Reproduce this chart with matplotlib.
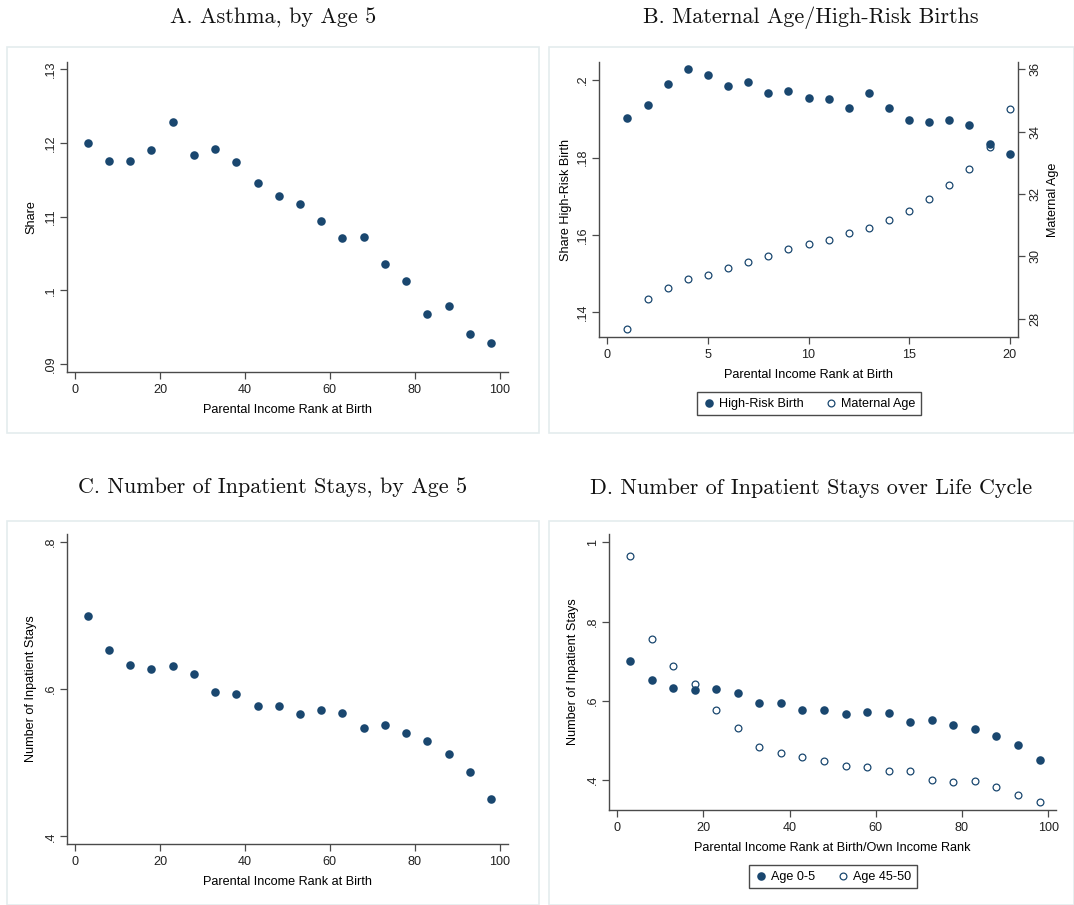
import matplotlib
matplotlib.use("Agg")
import matplotlib.pyplot as plt
from matplotlib.patches import Rectangle

# =================================
# Data
# =================================
rank_ventiles = [3, 8, 13, 18, 23, 28, 33, 38, 43, 48, 53, 58, 63, 68, 73, 78, 83, 88, 93, 98]
rank_bins = list(range(1, 21))

asthma_share = [.1200, .1175, .1175, .1190, .1229, .1184, .1192, .1174, .1145, .1128,
                .1117, .1094, .1071, .1072, .1036, .1013, .0968, .0979, .0940, .0928]

high_risk_share = [.1901, .1937, .1989, .2028, .2014, .1986, .1994, .1967, .1972, .1954,
                   .1951, .1928, .1967, .1929, .1898, .1891, .1897, .1885, .1836, .1809]
maternal_age = [27.66, 28.62, 28.97, 29.27, 29.41, 29.62, 29.82, 30.02, 30.22, 30.40,
                30.53, 30.74, 30.92, 31.17, 31.45, 31.83, 32.28, 32.82, 33.51, 34.72]

inpatient_0_5 = [.6994, .6533, .6321, .6276, .6307, .6208, .5955, .5937, .5770, .5770,
                 .5657, .5720, .5679, .5471, .5516, .5399, .5295, .5123, .4879, .4508]
inpatient_45_50 = [.9643, .7565, .6867, .6429, .5773, .5303, .4832, .4690, .4572, .4471,
                   .4354, .4320, .4219, .4236, .3992, .3941, .3983, .3823, .3630, .3437]

titles = ["A. Asthma, by Age 5", "B. Maternal Age/High-Risk Births",
          "C. Number of Inpatient Stays, by Age 5",
          "D. Number of Inpatient Stays over Life Cycle"]

# =================================
# Style
# =================================
W, H = 1074, 905
NAVY = "#1a476f"
AXC = "#4a4a4a"
FS = 9.1
plt.rcParams['font.family'] = ['Liberation Sans', 'DejaVu Sans']
plt.rcParams['font.size'] = FS

fig = plt.figure(figsize=(W / 100, H / 100), dpi=100)


def box(l, r, t, b):
    return [l / W, 1 - b / H, (r - l) / W, (b - t) / H]


def panel(l, r, t, b):
    fig.patches.append(Rectangle((l / W, 1 - b / H), (r - l) / W, (b - t) / H,
                                 transform=fig.transFigure, fill=False,
                                 edgecolor="#e4ecee", linewidth=1.2))


def style(ax, right=False):
    for s in ["top"] + ([] if right else ["right"]):
        ax.spines[s].set_visible(False)
    for s in ["left", "bottom", "right"]:
        ax.spines[s].set_color(AXC)
        ax.spines[s].set_linewidth(1.0)
    ax.tick_params(axis="both", colors=AXC, labelcolor="#222222", length=5, width=0.9)
    ax.tick_params(axis="y", labelrotation=90, pad=2)
    for lab in ax.get_yticklabels():
        lab.set_va("center")


def fmt(vals):
    out = []
    for v in vals:
        s = ("%g" % v)
        if s.startswith("0."):
            s = s[1:]
        out.append(s)
    return out


def title(x, y, text):
    fig.text(x / W, 1 - y / H, text, family="cmr10", fontsize=15.9,
             ha="center", va="center", color="#111111")


# panel boxes
panel(7, 539, 47, 433)
panel(549, 1074, 47, 433)
panel(7, 539, 521, 905)
panel(549, 1074, 521, 905)

title(273, 18, titles[0])
title(811, 18, titles[1])
title(273, 488, titles[2])
title(811, 488, titles[3])

# ---------------- A ----------------
axA = fig.add_axes(box(67, 508, 62, 372))
axA.scatter(rank_ventiles, asthma_share, s=38, color=NAVY, zorder=3, linewidths=0)
axA.set_xlim(-1.9, 102)
axA.set_ylim(.0889, .1310)
axA.set_xticks([0, 20, 40, 60, 80, 100])
yt = [.09, .10, .11, .12, .13]
axA.set_yticks(yt)
axA.set_yticklabels(fmt(yt))
axA.set_xlabel("Parental Income Rank at Birth", labelpad=6)
axA.set_ylabel("Share", labelpad=6)
style(axA)

# ---------------- B ----------------
axB = fig.add_axes(box(599, 1018, 62, 337))
axB2 = axB.twinx()
h1 = axB.scatter(rank_bins, high_risk_share, s=38, color=NAVY, zorder=3, linewidths=0,
                 label="High-Risk Birth")
h2 = axB2.scatter(rank_bins, maternal_age, s=24, facecolors="white", edgecolors=NAVY,
                  linewidths=0.9, zorder=2, label="Maternal Age")
axB.set_zorder(axB2.get_zorder() + 1)
axB.patch.set_visible(False)
axB.set_xlim(-0.41, 20.41)
axB.set_ylim(.1336, .2047)
axB2.set_ylim(27.41, 36.24)
axB.set_xticks([0, 5, 10, 15, 20])
yt = [.14, .16, .18, .20]
axB.set_yticks(yt)
axB.set_yticklabels(fmt(yt))
axB2.set_yticks([28, 30, 32, 34, 36])
axB.set_xlabel("Parental Income Rank at Birth", labelpad=6)
axB.set_ylabel("Share High-Risk Birth", labelpad=4)
axB2.set_ylabel("Maternal Age", labelpad=4)
style(axB)
style(axB2, right=True)
axB2.spines["left"].set_visible(False)
axB2.spines["bottom"].set_visible(False)
axB2.tick_params(axis="y", labelrotation=90, pad=3)
for lab in axB2.get_yticklabels():
    lab.set_va("center")
axB.spines["right"].set_visible(False)
legB = axB.legend([h1, h2], ["High-Risk Birth", "Maternal Age"], ncol=2, loc="center",
                  bbox_to_anchor=(809 / W, 1 - 403.5 / H), bbox_transform=fig.transFigure,
                  fancybox=False, edgecolor=AXC, framealpha=1, handletextpad=0.3,
                  columnspacing=1.7, borderpad=0.45, handlelength=1.0, fontsize=FS)
legB.get_frame().set_linewidth(1.0)

# ---------------- C ----------------
axC = fig.add_axes(box(67, 508, 534, 844))
axC.scatter(rank_ventiles, inpatient_0_5, s=38, color=NAVY, zorder=3, linewidths=0)
axC.set_xlim(-1.9, 102)
axC.set_ylim(.3896, .8104)
axC.set_xticks([0, 20, 40, 60, 80, 100])
yt = [.4, .6, .8]
axC.set_yticks(yt)
axC.set_yticklabels(fmt(yt))
axC.set_xlabel("Parental Income Rank at Birth", labelpad=6)
axC.set_ylabel("Number of Inpatient Stays", labelpad=6)
style(axC)

# ---------------- D ----------------
axD = fig.add_axes(box(609, 1056, 534, 810))
d1 = axD.scatter(rank_ventiles, inpatient_0_5, s=38, color=NAVY, zorder=3, linewidths=0)
d2 = axD.scatter(rank_ventiles, inpatient_45_50, s=24, facecolors="white", edgecolors=NAVY,
                 linewidths=0.9, zorder=2)
axD.set_xlim(-1.86, 101.8)
axD.set_ylim(.3243, 1.021)
axD.set_xticks([0, 20, 40, 60, 80, 100])
yt = [.4, .6, .8, 1]
axD.set_yticks(yt)
axD.set_yticklabels(fmt(yt))
axD.set_xlabel("Parental Income Rank at Birth/Own Income Rank", labelpad=6)
axD.set_ylabel("Number of Inpatient Stays", labelpad=6)
style(axD)
legD = axD.legend([d1, d2], ["Age 0-5", "Age 45-50"], ncol=2, loc="center",
                  bbox_to_anchor=(833 / W, 1 - 876.5 / H), bbox_transform=fig.transFigure,
                  fancybox=False, edgecolor=AXC, framealpha=1, handletextpad=0.3,
                  columnspacing=1.7, borderpad=0.45, handlelength=1.0, fontsize=FS)
legD.get_frame().set_linewidth(1.0)

fig.savefig("out.png", dpi=100, facecolor="white")
